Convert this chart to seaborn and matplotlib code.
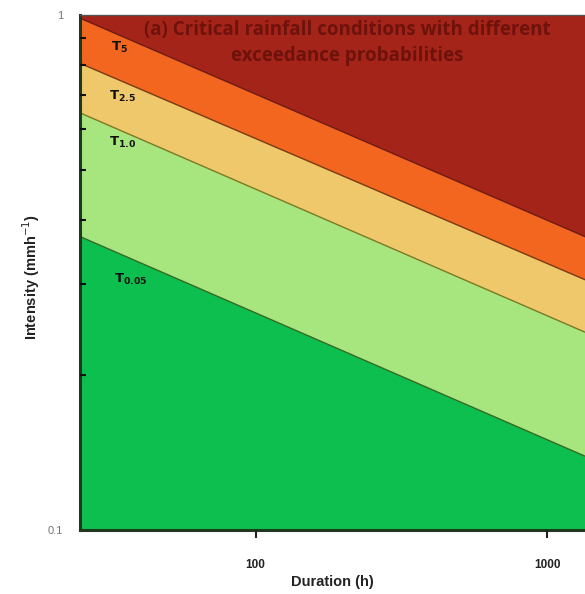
import numpy as np
import pandas as pd
import matplotlib
matplotlib.use("Agg")
import matplotlib.pyplot as plt
import seaborn as sns

# ---- data ----
durations = [25, 1350]                      # h (start / end of plotted range)
threshold_names = ["T5", "T2.5", "T1.0", "T0.05"]
threshold_labels = [r"$\mathbf{T_{5}}$", r"$\mathbf{T_{2.5}}$",
                    r"$\mathbf{T_{1.0}}$", r"$\mathbf{T_{0.05}}$"]
intensity_start = [0.985, 0.805, 0.645, 0.371]   # mm/h at 25 h
intensity_end = [0.371, 0.306, 0.242, 0.139]     # mm/h at 1350 h
y_range = [0.1, 1.0]
x_ticks = [100, 1000]
y_ticks = [0.1, 1]

band_colors = ["#A5241A", "#F3661F", "#EEC86A", "#A7E57F", "#0CBF4E"]
line_colors = ["#6E1A10", "#7A3A10", "#7A7A20", "#2F6A20"]

rows = []
for n, a, b in zip(threshold_names, intensity_start, intensity_end):
    rows.append({"threshold": n, "duration": durations[0], "intensity": a})
    rows.append({"threshold": n, "duration": durations[1], "intensity": b})
df = pd.DataFrame(rows)

sns.set_theme(style="white")
plt.rcParams["font.family"] = ["Liberation Sans", "DejaVu Sans"]

fig = plt.figure(figsize=(5.85, 5.94), dpi=100)
ax = fig.add_axes([0.137, 0.108, 0.863, 0.867])
ax.set_xscale("log")
ax.set_yscale("log")
ax.set_xlim(durations[0], durations[1])
ax.set_ylim(*y_range)
ax.set_axisbelow(False)

# bands
uppers = [[y_range[1]] * 2] + [[s, e] for s, e in zip(intensity_start, intensity_end)]
lowers = [[s, e] for s, e in zip(intensity_start, intensity_end)] + [[y_range[0]] * 2]
for up, lo, c in zip(uppers, lowers, band_colors):
    ax.fill_between(durations, lo, up, color=c, linewidth=0, zorder=1)

sns.lineplot(data=df, x="duration", y="intensity", hue="threshold",
             palette=dict(zip(threshold_names, line_colors)),
             legend=False, linewidth=1.0, ax=ax, zorder=2)

# threshold labels
label_pos = [(32, 0.863), (31.5, 0.693), (31.5, 0.564), (32.7, 0.306)]
for (x, y), t in zip(label_pos, threshold_labels):
    ax.text(x, y, t, fontsize=9.5, color="#111111", ha="left", va="center", zorder=3)

ax.text(0.53, 0.99,
        "(a) Critical rainfall conditions with different\nexceedance probabilities",
        transform=ax.transAxes, ha="center", va="top", fontsize=13.5,
        fontweight="bold", color="#6E120C", family=["Open Sans", "DejaVu Sans"],
        linespacing=1.4, zorder=3)

ax.set_xticks(x_ticks)
ax.set_xticklabels([str(t) for t in x_ticks], fontsize=8.5, fontweight="bold", color="#222222")
ax.set_yticks(y_ticks)
ax.set_yticklabels(["0.1", "1"], fontsize=8, color="#777777")
ax.xaxis.set_minor_locator(matplotlib.ticker.NullLocator())
ax.yaxis.set_minor_locator(matplotlib.ticker.LogLocator(base=10, subs=np.arange(2, 10)))
ax.yaxis.set_minor_formatter(matplotlib.ticker.NullFormatter())
ax.tick_params(axis="x", which="major", direction="out", length=6, width=1.5,
               color="#222222", bottom=True, pad=15)
ax.tick_params(axis="y", which="major", length=0, left=True, pad=12)
ax.tick_params(axis="y", which="minor", direction="in", length=4, width=1.5,
               color="#111111", left=True)

ax.set_xlabel("Duration (h)", fontsize=10.5, fontweight="bold", color="#222222", labelpad=3)
ax.set_ylabel("Intensity (mmh$^{-1}$)", fontsize=10.5, fontweight="bold", color="#222222")
ax.yaxis.set_label_coords(-0.075, 0.49)

ax.spines["right"].set_visible(False)
ax.spines["top"].set_color("#555555")
ax.spines["top"].set_linewidth(1.0)
for s in ["left", "bottom"]:
    ax.spines[s].set_color("#1E3A1E")
    ax.spines[s].set_linewidth(2.2)

fig.savefig("out.png", dpi=100)
